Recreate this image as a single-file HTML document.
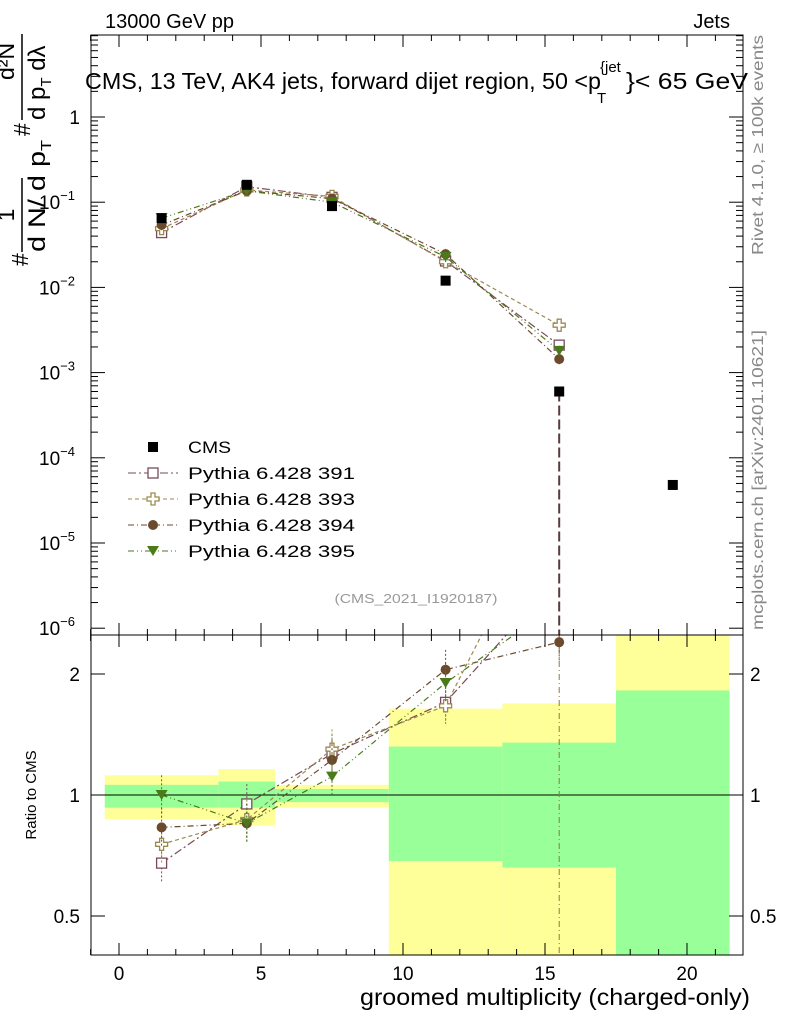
<!DOCTYPE html>
<html><head><meta charset="utf-8"><style>
html,body{margin:0;padding:0;background:#fff;overflow:hidden;width:786px;height:1024px;}
svg{display:block;}
svg text{font-family:"Liberation Sans",sans-serif;}
</style></head><body>
<svg id="c" width="786" height="1024" xmlns="http://www.w3.org/2000/svg">
<defs>
<clipPath id="cm"><rect x="91" y="35" width="652" height="600"/></clipPath>
<clipPath id="cr"><rect x="91" y="635" width="652" height="320"/></clipPath>
</defs>
<g id="bands" clip-path="url(#cr)"></g>
<g id="main" clip-path="url(#cm)"></g>
<g id="ratio" clip-path="url(#cr)"></g>
<g id="axes"></g>
<text x="105" y="28" font-size="20">13000 GeV pp</text>
<text x="730" y="28" font-size="20" text-anchor="end">Jets</text>
<g>
<text x="85" y="89" font-size="23" textLength="516" lengthAdjust="spacingAndGlyphs">CMS, 13 TeV, AK4 jets, forward dijet region, 50 &lt;p</text>
<text x="600" y="72" font-size="15">{jet</text>
<text x="597" y="103" font-size="15">T</text>
<text x="626" y="89" font-size="23" textLength="122" lengthAdjust="spacingAndGlyphs">}&lt; 65 GeV</text>
</g>
<text x="416" y="603" font-size="13" fill="#999" text-anchor="middle" textLength="163" lengthAdjust="spacingAndGlyphs">(CMS_2021_I1920187)</text>
<text transform="translate(763,255) rotate(-90)" font-size="16" fill="#888" textLength="220" lengthAdjust="spacingAndGlyphs">Rivet 4.1.0, ≥ 100k events</text>
<text transform="translate(763,630) rotate(-90)" font-size="16" fill="#888" textLength="300" lengthAdjust="spacingAndGlyphs">mcplots.cern.ch [arXiv:2401.10621]</text>
<g transform="translate(0,270) rotate(-90)">
<text x="4" y="28" font-size="23">#</text>
<line x1="18" y1="22" x2="92" y2="22" stroke="#000" stroke-width="1.5"/>
<text x="55" y="14" font-size="23" text-anchor="middle">1</text>
<text x="18" y="45" font-size="24" textLength="112" lengthAdjust="spacingAndGlyphs">d N/ d p<tspan font-size="15" dy="6">T</tspan></text>
<text x="134" y="30" font-size="23">#</text>
<line x1="150" y1="22" x2="236" y2="22" stroke="#000" stroke-width="1.5"/>
<text x="190" y="14" font-size="23">d²N</text>
<text x="150" y="45" font-size="24">d p<tspan font-size="15" dy="6">T</tspan><tspan dy="-6"> dλ</tspan></text>
</g>
<text transform="translate(36,795) rotate(-90)" font-size="15" text-anchor="middle">Ratio to CMS</text>
<text x="750" y="1005" font-size="23" text-anchor="end" textLength="390" lengthAdjust="spacingAndGlyphs">groomed multiplicity (charged-only)</text>
<g id="legend"></g>
</svg>
<script>
const NS="http://www.w3.org/2000/svg";
const xcenters=[1.5,4.5,7.5,11.5,15.5];
const cmsX=[1.5,4.5,7.5,11.5,15.5,19.5];
const cmsY=[0.065,0.16,0.09,0.012,0.0006,0.000048];
const mc391=[0.044,0.152,0.114,0.0204,0.0021];
const mc393=[0.049,0.139,0.117,0.020,0.0036];
const mc394=[0.054,0.136,0.11,0.0246,0.00144];
const mc395=[0.065,0.136,0.1,0.0228,0.0018];
const binLo=[-0.5,3.5,5.5,9.5,13.5,17.5];
const binHi=[3.5,5.5,9.5,13.5,17.5,21.5];
const yelLo=[0.87,0.84,0.93,0.1,0.1,0.1];
const yelHi=[1.12,1.16,1.06,1.64,1.69,5];
const grnLo=[0.93,0.93,0.96,0.685,0.66,0.1];
const grnHi=[1.06,1.08,1.035,1.32,1.35,1.82];
const xTicks=[0,5,10,15,20];
const yTicks=[1,0.1,0.01,0.001,0.0001,0.00001,0.000001];
const yTickLbl=[["1",""],["10","−1"],["10","−2"],["10","−3"],["10","−4"],["10","−5"],["10","−6"]];
const rTicks=[0.5,1,2];
const X=v=>119+(v)*28.4;
const Y=v=>117-Math.log10(v)*85.2;
const R=v=>795-Math.log2(v)*121;
function el(t,a,p){const e=document.createElementNS(NS,t);for(const k in a)e.setAttribute(k,a[k]);document.getElementById(p).appendChild(e);return e;}
for(let i=0;i<binLo.length;i++){
 let e=el('rect',{x:X(binLo[i]),y:R(yelHi[i]),width:X(binHi[i])-X(binLo[i]),height:R(yelLo[i])-R(yelHi[i]),fill:'#ffff99'},'bands');
 
 
 e=el('rect',{x:X(binLo[i]),y:R(grnHi[i]),width:X(binHi[i])-X(binLo[i]),height:R(grnLo[i])-R(grnHi[i]),fill:'#99ff99'},'bands');
 
 
}
el('line',{x1:91,x2:743,y1:R(1),y2:R(1),stroke:'#000'},'ratio');
el('line',{x1:X(15.5),x2:X(15.5),y1:Y(cmsY[4]),y2:640,stroke:'#5a3a3a','stroke-width':2,'stroke-dasharray':'10,4'},'main');
el('line',{x1:X(15.5),x2:X(15.5),y1:635,y2:955,stroke:'#8a7a40','stroke-dasharray':'6,3,1,3'},'ratio');
const series=[
 {d:mc391,c:'#7a4a5a',m:'sq',dash:'8,3,2,3',n:'Pythia 6.428 391'},
 {d:mc393,c:'#9a8a50',m:'cross',dash:'4,3',n:'Pythia 6.428 393'},
 {d:mc394,c:'#6b4a2e',m:'circ',dash:'6,3,1,3',n:'Pythia 6.428 394'},
 {d:mc395,c:'#4a7a1a',m:'tri',dash:'6,3,1,3,1,3',n:'Pythia 6.428 395'}];
function marker(g,type,x,y,c){
 let e;
 if(type==='sq')e=el('rect',{x:x-5,y:y-5,width:10,height:10,fill:'#fff',stroke:c,'stroke-width':1.3},g);
 else if(type==='cross')e=el('path',{d:`M${x-2} ${y-6}h4v4h4v4h-4v4h-4v-4h-4v-4h4z`,fill:'#fff',stroke:c,'stroke-width':1.3},g);
 else if(type==='circ')e=el('circle',{cx:x,cy:y,r:5,fill:c},g);
 else if(type==='tri')e=el('path',{d:`M${x-6} ${y-5}h12l-6 10z`,fill:c},g);
 else e=el('rect',{x:x-5,y:y-5,width:10,height:10,fill:'#000'},g);
 
 
}
series.forEach((s,si)=>{
 let p=s.d.map((v,i)=>X(xcenters[i])+','+Y(v)).join(' ');
 let l=el('polyline',{points:p,fill:'none',stroke:s.c,'stroke-width':1.2,'stroke-dasharray':s.dash},'main');
 
 
 let rp=s.d.map((v,i)=>X(xcenters[i])+','+R(v/cmsY[i])).join(' ');
 l=el('polyline',{points:rp,fill:'none',stroke:s.c,'stroke-width':1.2,'stroke-dasharray':s.dash},'ratio');
 
 
 s.d.forEach((v,i)=>{
  const r=v/cmsY[i];
  el('line',{x1:X(xcenters[i]),x2:X(xcenters[i]),y1:R(r*1.12),y2:R(r/1.12),stroke:s.c,'stroke-dasharray':'2,2'},'ratio');
  el('line',{x1:X(xcenters[i]),x2:X(xcenters[i]),y1:Y(v*1.15),y2:Y(v/1.15),stroke:s.c},'main');
  marker('main',s.m,X(xcenters[i]),Y(v),s.c);
  marker('ratio',s.m,X(xcenters[i]),R(r),s.c);
 });
});
cmsX.forEach((x,i)=>marker('main','cms',X(x),Y(cmsY[i]),'#000'));
const A='axes';
el('rect',{x:91,y:35,width:652,height:600,fill:'none',stroke:'#000'},A);
el('rect',{x:91,y:635,width:652,height:320,fill:'none',stroke:'#000'},A);
xTicks.forEach(t=>{
 [[35,47],[635,623],[635,647],[955,943]].forEach(([a,b])=>el('line',{x1:X(t),x2:X(t),y1:a,y2:b,stroke:'#000'},A));
 const e=el('text',{x:X(t),y:980,'font-size':19,'text-anchor':'middle'},A);e.textContent=t;
 
 
});
for(let t=-1;t<=21;t++){[[35,41],[635,629],[635,641],[955,949]].forEach(([a,b])=>el('line',{x1:X(t),x2:X(t),y1:a,y2:b,stroke:'#000'},A));}
yTicks.forEach((t,i)=>{
 el('line',{x1:91,x2:105,y1:Y(t),y2:Y(t),stroke:'#000'},A);
 el('line',{x1:743,x2:729,y1:Y(t),y2:Y(t),stroke:'#000'},A);
 for(let k=2;k<10;k++){const y=Y(t*k);if(y>35&&y<635){el('line',{x1:91,x2:98,y1:y,y2:y,stroke:'#000'},A);el('line',{x1:743,x2:736,y1:y,y2:y,stroke:'#000'},A);}}
 const e=el('text',{x:80,y:Y(t)+7,'font-size':19,'text-anchor':'end'},A);
 
 
 if(yTickLbl[i][1]===''){e.textContent=yTickLbl[i][0];}
 else{e.setAttribute('text-anchor','start');e.setAttribute('x',39);e.textContent=yTickLbl[i][0];const s=document.createElementNS(NS,'tspan');s.setAttribute('font-size',13);s.setAttribute('dy',-9);s.textContent=yTickLbl[i][1];e.appendChild(s);}
});
rTicks.forEach(t=>{
 el('line',{x1:91,x2:105,y1:R(t),y2:R(t),stroke:'#000'},A);
 el('line',{x1:743,x2:729,y1:R(t),y2:R(t),stroke:'#000'},A);
 let e=el('text',{x:80,y:R(t)+7,'font-size':19,'text-anchor':'end'},A);e.textContent=t;
 
 
 e=el('text',{x:750,y:R(t)+7,'font-size':19},A);e.textContent=t;
 
 
});
const L='legend';
marker(L,'cms',153,447,'#000');
let t=el('text',{x:188,y:453,'font-size':17,textLength:43,lengthAdjust:'spacingAndGlyphs'},L);t.textContent='CMS';


series.forEach((s,i)=>{
 const y=473+i*26;
 el('line',{x1:128,x2:178,y1:y,y2:y,stroke:s.c,'stroke-dasharray':s.dash},L);
 marker(L,s.m,153,y,s.c);
 const e=el('text',{x:188,y:y+6,'font-size':17,textLength:167,lengthAdjust:'spacingAndGlyphs'},L);e.textContent=s.n;
 
 
});
</script>
</body></html>
